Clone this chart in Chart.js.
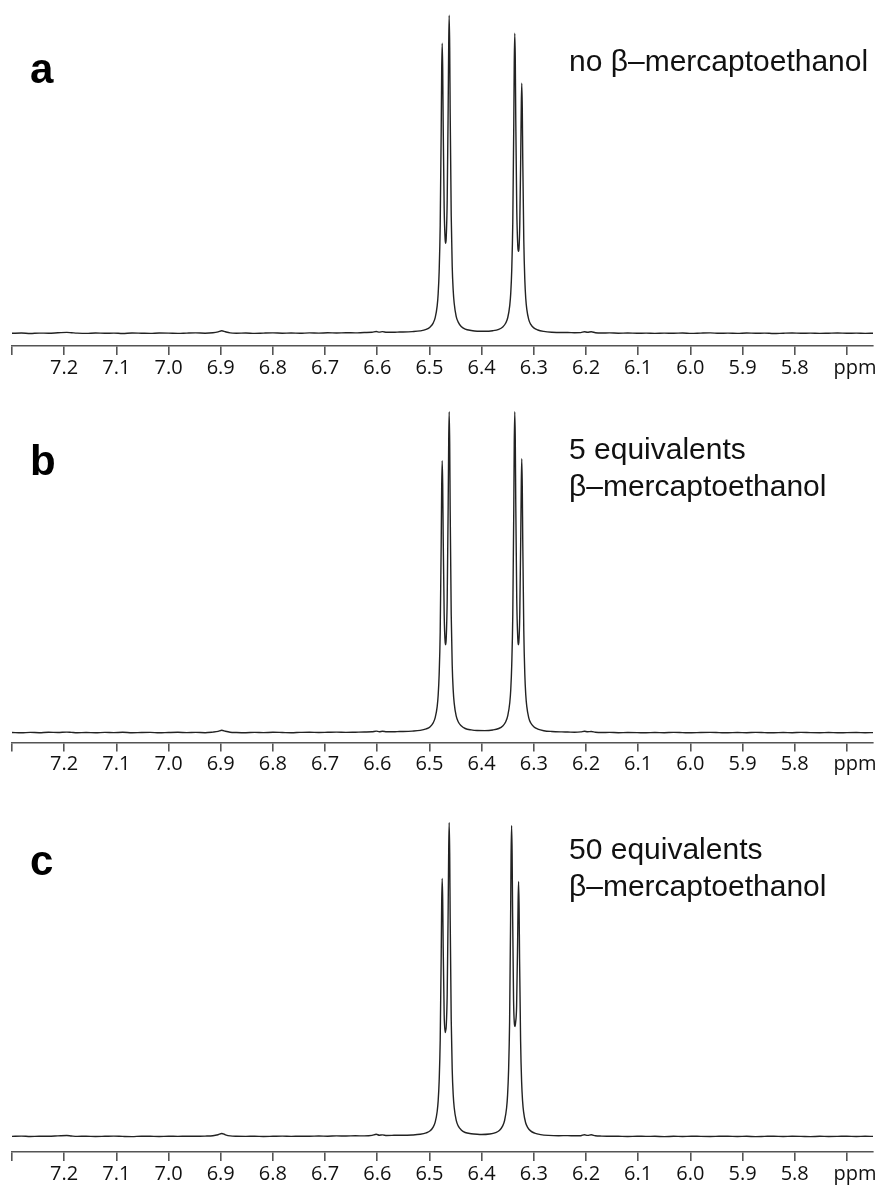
<!DOCTYPE html>
<html><head><meta charset="utf-8">
<script src="https://cdn.jsdelivr.net/npm/chart.js@4.4.0/dist/chart.umd.min.js"></script>
<style>
html,body{margin:0;padding:0;background:#fff;}
body{width:883px;height:1186px;position:relative;overflow:hidden;font-family:'Liberation Sans',Arial,sans-serif;}
canvas{position:absolute;left:0;}
.lbl{position:absolute;left:30px;font-weight:bold;font-size:42px;line-height:42px;color:#000;}
.note{position:absolute;left:569px;font-size:30px;line-height:30px;color:#111;white-space:nowrap;}
</style></head><body>
<canvas id="ca" width="883" height="395" style="top:0px"></canvas>
<canvas id="cb" width="883" height="395" style="top:395px"></canvas>
<canvas id="cc" width="883" height="396" style="top:790px"></canvas>
<div class="lbl" style="top:48px">a</div>
<div class="lbl" style="top:440px">b</div>
<div class="lbl" style="top:840px">c</div>
<div class="note" style="top:46px">no β–mercaptoethanol</div>
<div class="note" style="top:434px">5 equivalents</div>
<div class="note" style="top:471px">β–mercaptoethanol</div>
<div class="note" style="top:834px">50 equivalents</div>
<div class="note" style="top:871px">β–mercaptoethanol</div>
<script>
// ---- axis ----
const tickValues = [7.3, 7.2, 7.1, 7.0, 6.9, 6.8, 6.7, 6.6, 6.5, 6.4, 6.3, 6.2, 6.1, 6.0, 5.9, 5.8, 5.7];
const tickLabels = ['', '7.2', '7.1', '7.0', '6.9', '6.8', '6.7', '6.6', '6.5', '6.4', '6.3', '6.2', '6.1', '6.0', '5.9', '5.8', ''];
const axisUnit = 'ppm';

// ---- chemical shift positions (ppm) ----
const leftPpm = [7.300, 7.282, 7.265, 7.248, 7.230, 7.212, 7.195, 7.186, 7.175, 7.158,
  7.140, 7.122, 7.105, 7.088, 7.070, 7.052, 7.035, 7.018, 7.000, 6.982,
  6.965, 6.948, 6.930, 6.915, 6.905, 6.898, 6.891, 6.882, 6.870, 6.852,
  6.835, 6.818, 6.800, 6.782, 6.765, 6.748, 6.730, 6.712, 6.695, 6.678,
  6.660, 6.642, 6.625, 6.610, 6.602, 6.596, 6.590, 6.582, 6.572, 6.562];
const d1Ppm = [6.5523, 6.5331, 6.5178, 6.5063, 6.4986, 6.4929, 6.4890, 6.4852, 6.4833, 6.4814,
  6.4794, 6.4775, 6.4766, 6.4756, 6.4746, 6.4737, 6.4718, 6.4698, 6.4689, 6.4679,
  6.4660, 6.4641, 6.4631, 6.4622, 6.4612, 6.4603, 6.4583, 6.4564, 6.4545, 6.4526,
  6.4488, 6.4449, 6.4392, 6.4315];
const midPpm = [6.4200, 6.4085];
const d2PpmAB = [6.3940, 6.3787, 6.3672, 6.3595, 6.3538, 6.3499, 6.3461, 6.3442, 6.3423, 6.3403,
  6.3384, 6.3375, 6.3365, 6.3355, 6.3346, 6.3327, 6.3307, 6.3298, 6.3288, 6.3269,
  6.3250, 6.3240, 6.3231, 6.3221, 6.3212, 6.3192, 6.3173, 6.3154, 6.3135, 6.3097,
  6.3058, 6.3001, 6.2924, 6.2809, 6.2656, 6.2464];
const d2PpmC = [6.4001, 6.3848, 6.3733, 6.3656, 6.3599, 6.3560, 6.3522, 6.3503, 6.3484, 6.3464,
  6.3445, 6.3436, 6.3426, 6.3416, 6.3407, 6.3388, 6.3368, 6.3359, 6.3349, 6.3330,
  6.3311, 6.3301, 6.3292, 6.3282, 6.3273, 6.3253, 6.3234, 6.3215, 6.3196, 6.3158,
  6.3119, 6.3062, 6.2985, 6.2870, 6.2717, 6.2525];
const rightPpm = [6.235, 6.222, 6.210, 6.203, 6.197, 6.190, 6.182, 6.170, 6.155, 6.138,
  6.120, 6.102, 6.085, 6.068, 6.050, 6.032, 6.015, 5.998, 5.980, 5.962,
  5.945, 5.928, 5.910, 5.892, 5.875, 5.858, 5.840, 5.822, 5.805, 5.788,
  5.770, 5.752, 5.735, 5.718, 5.700, 5.682, 5.665, 5.650];

// ---- intensities, panel a (no beta-mercaptoethanol) ----
const leftA = [0.0, 0.3, -0.2, 0.2, 0.1, 0.5, 0.9, 0.6, 0.2, -0.1,
  0.3, 0.0, 0.2, -0.2, 0.3, 0.1, -0.1, 0.3, 0.2, -0.1,
  0.2, 0.4, 0.1, 0.5, 1.4, 2.6, 1.5, 0.4, 0.1, 0.3,
  -0.1, 0.2, 0.4, 0.1, 0.3, 0.0, 0.4, 0.2, 0.5, 0.3,
  0.6, 0.4, 0.8, 1.0, 1.8, 1.2, 1.7, 1.0, 1.0, 1.2];
const d1A = [1.3, 1.7, 2.4, 3.9, 6.4, 10.2, 15.7, 27.5, 39.6, 62,
  108, 202, 261, 290, 264, 209, 125, 93, 90, 95,
  133, 228, 289, 318, 286, 221, 118, 67, 43, 30,
  17, 11.2, 6.9, 4.2];
const midA = [2.8, 2.1];
const d2A = [2.0, 2.6, 4.0, 6.4, 10.3, 15.8, 28, 40.2, 63.4, 111,
  209, 270, 300, 273, 214, 124, 87, 82, 83, 109,
  181, 228, 250, 225, 174, 93, 54, 34.5, 24.1, 13.7,
  8.9, 5.4, 3.3, 1.9, 1.1, 0.8];
const rightA = [0.8, 0.6, 0.7, 1.6, 1.0, 1.5, 0.6, 0.3, 0.4, 0.1,
  0.3, 0.0, 0.2, -0.1, 0.2, 0.0, 0.3, -0.1, 0.2, 0.4,
  0.0, 0.2, -0.1, 0.3, 0.0, 0.2, -0.2, 0.1, 0.3, 0.0,
  0.2, -0.1, 0.1, 0.3, 0.0, 0.2, -0.1, 0.1];

// ---- intensities, panel b (5 equivalents) ----
const leftB = [0.2, -0.1, 0.3, 0.0, 0.4, 0.2, 0.6, 0.3, 0.0, 0.2,
  -0.1, 0.3, 0.1, 0.4, 0.0, 0.2, 0.3, -0.1, 0.2, 0.4,
  0.1, 0.3, 0.0, 0.6, 1.3, 2.4, 1.4, 0.5, 0.2, 0.0,
  0.3, 0.1, 0.4, 0.2, 0.0, 0.3, 0.5, 0.2, 0.4, 0.6,
  0.3, 0.5, 0.7, 0.9, 1.6, 1.0, 1.4, 0.9, 0.9, 1.1];
const d1B = [1.2, 1.6, 2.3, 3.8, 6.0, 9.8, 15.0, 26.1, 37.4, 58.5,
  101, 189, 244, 272, 248, 197, 119, 90, 88, 94,
  133, 229, 292, 321, 289, 223, 118.5, 67.6, 42.8, 29.6,
  16.8, 11.0, 6.9, 4.2];
const midB = [2.8, 2.2];
const d2B = [2.1, 2.7, 4.2, 6.8, 11.0, 17.0, 30, 43, 68, 118.5,
  223, 289, 321, 292, 229.5, 133, 94, 88, 90, 119,
  198, 250, 274, 246, 191, 102, 59, 37.7, 26.3, 14.9,
  9.7, 5.9, 3.6, 2.0, 1.2, 0.8];
const rightB = [0.7, 0.5, 0.8, 1.4, 0.9, 1.2, 0.5, 0.2, 0.3, 0.0,
  0.2, 0.1, -0.1, 0.2, 0.0, 0.3, 0.1, -0.1, 0.2, 0.3,
  0.1, -0.1, 0.2, 0.0, 0.3, 0.1, -0.1, 0.2, 0.0, 0.3,
  0.1, 0.0, 0.2, -0.1, 0.1, 0.2, 0.0, 0.1];

// ---- intensities, panel c (50 equivalents) ----
const leftC = [0.1, 0.4, 0.0, 0.3, 0.2, 0.6, 1.0, 0.5, 0.1, 0.3,
  0.0, 0.2, 0.4, 0.1, -0.1, 0.3, 0.2, 0.0, 0.3, 0.1,
  0.3, 0.2, 0.4, 0.8, 1.8, 3.0, 1.7, 0.6, 0.2, 0.1,
  0.3, 0.0, 0.2, 0.4, 0.1, 0.3, 0.2, 0.5, 0.3, 0.6,
  0.5, 0.7, 0.6, 1.1, 2.2, 1.3, 1.6, 1.0, 1.1, 1.3];
const d1C = [1.2, 1.5, 2.2, 3.6, 5.7, 9.4, 14.3, 25, 35.6, 55.6,
  96.3, 180, 232, 258, 236, 190, 122, 104, 106, 110,
  142, 230, 287, 314, 283, 219, 117, 67, 42, 29,
  16.3, 10.6, 6.6, 4.0];
const midC = [2.8, 2.2];
const d2C = [2.0, 2.5, 3.9, 6.3, 10.4, 16.0, 28.5, 41.4, 65.4, 114.7,
  216, 280, 311, 284, 226, 136, 111, 110, 114, 130,
  192, 235, 255, 229, 177.5, 95, 55, 35.2, 24.6, 14,
  9.2, 5.6, 3.4, 1.9, 1.1, 0.8];
const rightC = [0.9, 0.7, 0.8, 1.8, 1.1, 1.7, 0.7, 0.4, 0.3, 0.2,
  0.0, 0.3, 0.1, 0.2, -0.1, 0.2, 0.0, 0.3, 0.1, 0.0,
  0.2, 0.3, 0.0, 0.2, -0.1, 0.1, 0.3, 0.0, 0.2, 0.1,
  -0.1, 0.2, 0.0, 0.1, 0.3, 0.0, 0.2, 0.1];

const tickFont = { family: "'Open Sans', sans-serif", size: 20 };
const TICK_LEN = 9, TICK_PAD = 1;

const unitPlugin = {
  id: 'unitLabel',
  afterDraw(chart) {
    const s = chart.scales.x, ctx = chart.ctx;
    ctx.save();
    ctx.font = tickFont.size + "px " + tickFont.family;
    ctx.fillStyle = '#111';
    ctx.textAlign = 'center';
    ctx.textBaseline = 'middle';
    ctx.fillText(axisUnit, 855, s.top + TICK_LEN + TICK_PAD + tickFont.size * 1.2 / 2);
    ctx.restore();
  }
};

function makePanel(id, xs, ys, geom) {
  const pts = xs.map((x, i) => ({ x: x, y: ys[i] }));
  new Chart(document.getElementById(id), {
    type: 'line',
    data: { datasets: [{ data: pts, borderColor: '#222', borderWidth: 1.4, pointRadius: 0,
      fill: false, cubicInterpolationMode: 'monotone' }] },
    options: {
      responsive: false, animation: false, devicePixelRatio: 1,
      layout: { padding: { left: 12, right: 10, top: 0, bottom: 0 } },
      plugins: { legend: { display: false }, tooltip: { enabled: false } },
      scales: {
        x: {
          type: 'linear', reverse: true, min: 5.65, max: 7.30,
          afterBuildTicks: s => { s.ticks = tickValues.map(v => ({ value: v })); },
          afterFit: s => { s.height = geom.axisH; s.paddingLeft = 0; s.paddingRight = 0; },
          ticks: { autoSkip: false, maxRotation: 0, minRotation: 0, padding: TICK_PAD,
            color: '#111', font: tickFont, callback: (v, i) => tickLabels[i] },
          grid: { display: true, drawOnChartArea: false, drawTicks: true, tickLength: TICK_LEN,
            color: '#555', lineWidth: 1.6 },
          border: { display: true, color: '#555', width: 1.6 }
        },
        y: { display: false, min: geom.yMin, max: geom.yMax }
      }
    },
    plugins: [unitPlugin]
  });
}

makePanel('ca', [...leftPpm, ...d1Ppm, ...midPpm, ...d2PpmAB, ...rightPpm],
  [...leftA, ...d1A, ...midA, ...d2A, ...rightA], { axisH: 49, yMin: -12.7, yMax: 333.3 });
makePanel('cb', [...leftPpm, ...d1Ppm, ...midPpm, ...d2PpmAB, ...rightPpm],
  [...leftB, ...d1B, ...midB, ...d2B, ...rightB], { axisH: 47.5, yMin: -9.8, yMax: 337.7 });
makePanel('cc', [...leftPpm, ...d1Ppm, ...midPpm, ...d2PpmC, ...rightPpm],
  [...leftC, ...d1C, ...midC, ...d2C, ...rightC], { axisH: 34, yMin: -15.5, yMax: 346.5 });
</script>
</body></html>
